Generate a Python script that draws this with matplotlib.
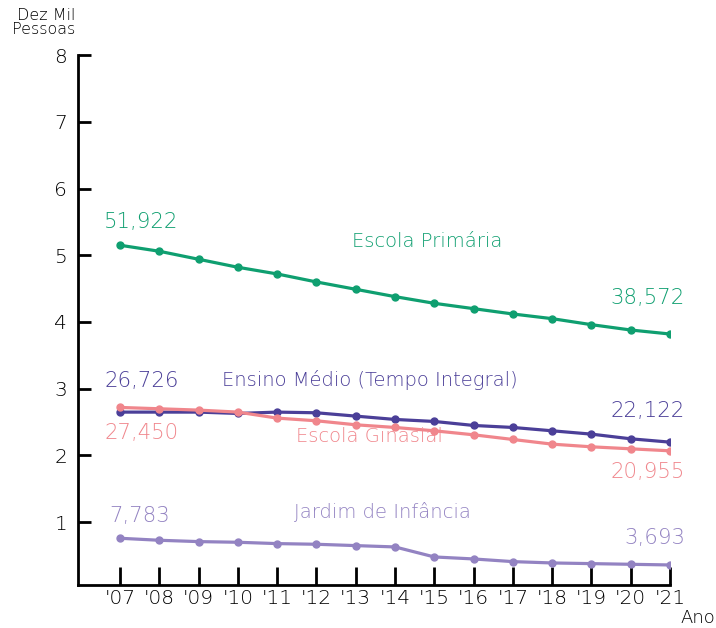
import matplotlib
matplotlib.use("Agg")
import matplotlib.pyplot as plt

plt.rcParams['font.family'] = ['DejaVu Sans']
plt.rcParams['font.weight'] = 200

# data (unit: 10 thousand people)
anos = ["'07", "'08", "'09", "'10", "'11", "'12", "'13", "'14",
        "'15", "'16", "'17", "'18", "'19", "'20", "'21"]
primaria = [5.15, 5.06, 4.94, 4.82, 4.72, 4.60, 4.49, 4.38,
            4.28, 4.20, 4.12, 4.05, 3.96, 3.88, 3.82]
medio = [2.65, 2.65, 2.65, 2.63, 2.65, 2.64, 2.59, 2.54,
         2.51, 2.45, 2.42, 2.37, 2.32, 2.25, 2.20]
ginasial = [2.72, 2.70, 2.68, 2.65, 2.56, 2.52, 2.46, 2.42,
            2.37, 2.31, 2.24, 2.17, 2.13, 2.10, 2.07]
jardim = [0.76, 0.73, 0.71, 0.70, 0.68, 0.67, 0.65, 0.63,
          0.48, 0.45, 0.41, 0.39, 0.38, 0.37, 0.36]

cor_prim = '#0f9f70'
cor_medio = '#4b3f98'
cor_gin = '#f0868c'
cor_jard = '#9383c2'

fig = plt.figure(figsize=(7.16, 6.28), dpi=100)
ax = fig.add_axes([0.1094, 0.0685, 0.8264, 0.8439])

x = list(range(len(anos)))
for vals, cor in [(primaria, cor_prim), (medio, cor_medio),
                  (ginasial, cor_gin), (jardim, cor_jard)]:
    ax.plot(x, vals, color=cor, lw=2.3, marker='o', ms=5, zorder=3)

ax.set_xlim(-1.06, 14)
ax.set_ylim(0.06, 8)
ax.set_xticks(x)
ax.set_xticklabels(anos)
ax.set_yticks(range(1, 9))
ax.tick_params(axis='x', direction='in', length=13, width=2, labelsize=14.5, pad=3)
ax.tick_params(axis='y', direction='in', length=9, width=2, labelsize=14.5, pad=8)
for s in ['top', 'right']:
    ax.spines[s].set_visible(False)
for s in ['left', 'bottom']:
    ax.spines[s].set_linewidth(2)

# labels
fs_num = 15.3
fs_nome = 14
ax.text(-0.40, 5.50, '51,922', color=cor_prim, fontsize=fs_num, ha='left', va='center')
ax.text(14.38, 4.36, '38,572', color=cor_prim, fontsize=fs_num, ha='right', va='center')
ax.text(7.83, 5.20, 'Escola Primária', color=cor_prim, fontsize=fs_nome, ha='center', va='center')

ax.text(-0.40, 3.12, '26,726', color=cor_medio, fontsize=fs_num, ha='left', va='center')
ax.text(14.38, 2.67, '22,122', color=cor_medio, fontsize=fs_num, ha='right', va='center')
ax.text(6.36, 3.13, 'Ensino Médio (Tempo Integral)', color=cor_medio, fontsize=fs_nome, ha='center', va='center')

ax.text(-0.40, 2.34, '27,450', color=cor_gin, fontsize=fs_num, ha='left', va='center')
ax.text(14.38, 1.75, '20,955', color=cor_gin, fontsize=fs_num, ha='right', va='center')
ax.text(6.36, 2.28, 'Escola Ginasial', color=cor_gin, fontsize=fs_nome, ha='center', va='center', zorder=1)

ax.text(-0.27, 1.09, '7,783', color=cor_jard, fontsize=fs_num, ha='left', va='center')
ax.text(14.38, 0.76, '3,693', color=cor_jard, fontsize=fs_num, ha='right', va='center')
ax.text(6.67, 1.15, 'Jardim de Infância', color=cor_jard, fontsize=fs_nome, ha='center', va='center')

fig.text(75 / 716, 1 - 8 / 628, 'Dez Mil\nPessoas', fontsize=11.5, ha='right', va='top',
         linespacing=0.95)
fig.text(715 / 716, 1 - 618 / 628, 'Ano', fontsize=13, ha='right', va='center')

fig.savefig('out.png', dpi=100)
